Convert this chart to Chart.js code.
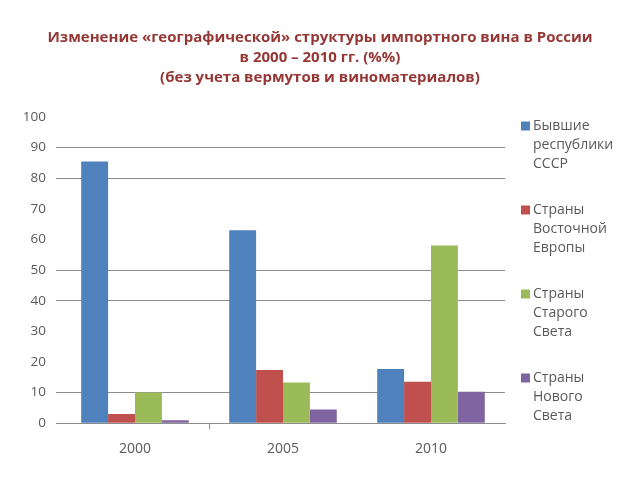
<!DOCTYPE html>
<html>
<head>
<meta charset="utf-8">
<script src="https://cdn.jsdelivr.net/npm/chart.js@4"></script>
<style>
  html, body { margin:0; padding:0; background:#fff; }
  canvas { display:block; }
</style>
</head>
<body>
<canvas id="chart" width="640" height="480"></canvas>
<script>
const years      = ["2000", "2005", "2010"];
const exUSSR     = [85.5, 63.0, 17.7];
const eastEurope = [3.0, 17.4, 13.5];
const oldWorld   = [10.0, 13.3, 58.0];
const newWorld   = [1.0, 4.5, 10.3];
const seriesNames = [
  "Бывшие\nреспублики\nСССР",
  "Страны\nВосточной\nЕвропы",
  "Страны\nСтарого\nСвета",
  "Страны\nНового\nСвета"
];
const titleLines = [
  "Изменение «географической» структуры импортного вина в России",
  "в 2000 – 2010 гг. (%%)",
  "(без учета вермутов и виноматериалов)"
];

const COLORS = ["#4F81BD", "#C0504D", "#9BBB59", "#8064A2"];
const FONT = "'Open Sans', 'DejaVu Sans', sans-serif";
const TEXT = "#595959";
const GRID = "#8c8c8c";
const visibleGrid = [0, 10, 40, 50, 80, 90];

// legend drawn by hand: three-line labels, square next to the first line
const sideLegend = {
  id: "sideLegend",
  afterDraw(chart) {
    const ctx = chart.ctx;
    ctx.save();
    ctx.font = "14px " + FONT;
    ctx.textBaseline = "middle";
    ctx.textAlign = "left";
    chart.data.datasets.forEach((ds, i) => {
      const y0 = 126 + i * 84;
      ctx.fillStyle = ds.backgroundColor;
      ctx.fillRect(521, y0 - 4.5, 9, 9);
      ctx.fillStyle = TEXT;
      ds.label.split("\n").forEach((line, j) => ctx.fillText(line, 533, y0 + j * 19));
    });
    ctx.restore();
  }
};

new Chart(document.getElementById("chart"), {
  type: "bar",
  data: {
    labels: years,
    datasets: [exUSSR, eastEurope, oldWorld, newWorld].map((d, i) => ({
      label: seriesNames[i],
      data: d,
      backgroundColor: COLORS[i],
      borderWidth: 0,
      categoryPercentage: 0.727,
      barPercentage: 1
    }))
  },
  options: {
    responsive: false,
    animation: false,
    layout: { padding: { left: 0, right: 0, bottom: 12 } },
    plugins: {
      legend: { display: false },
      tooltip: { enabled: false },
      title: {
        display: true,
        text: titleLines,
        color: "#953735",
        font: { family: FONT, size: 15, weight: "bold", lineHeight: 1.333 },
        padding: { top: 28, bottom: 29 }
      }
    },
    scales: {
      x: {
        grid: {
          offset: true,
          drawOnChartArea: false,
          drawTicks: true,
          tickLength: 6,
          color: c => c.index === 1 ? GRID : "rgba(0,0,0,0)"
        },
        border: { display: true, color: GRID },
        ticks: { color: TEXT, font: { family: FONT, size: 14 }, padding: 11 }
      },
      y: {
        min: 0,
        max: 100,
        afterFit: s => { s.width = 61; },
        ticks: { stepSize: 10, color: TEXT, font: { family: FONT, size: 13.5 }, padding: 10 },
        grid: {
          tickLength: 5,
          color: c => visibleGrid.includes(c.tick.value) ? GRID : "rgba(0,0,0,0)"
        },
        border: { display: false }
      },
      // empty right-hand scale that only reserves room for the legend
      side: {
        position: "right",
        display: true,
        afterFit: s => { s.width = 135; },
        ticks: { display: false },
        grid: { display: false },
        border: { display: false }
      }
    }
  },
  plugins: [sideLegend]
});
</script>
</body>
</html>
